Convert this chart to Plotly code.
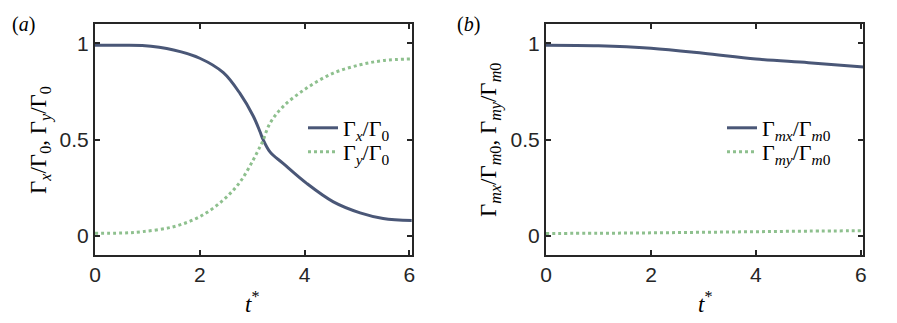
import plotly.graph_objects as go

# panel (a): Γx/Γ0 and Γy/Γ0 vs t*
t_a = [0, 0.5, 0.9, 1.5, 2.0, 2.45, 2.77, 3.02, 3.15, 3.2, 3.34, 3.59, 4.04, 4.55, 5.06, 5.5, 6.05]
gx_a = [0.99, 0.99, 0.988, 0.965, 0.922, 0.847, 0.738, 0.622, 0.54, 0.505, 0.436, 0.376, 0.272, 0.176, 0.119, 0.09, 0.079]
gy_a = [0.013, 0.014, 0.021, 0.047, 0.099, 0.186, 0.28, 0.394, 0.463, 0.49, 0.584, 0.671, 0.767, 0.845, 0.888, 0.91, 0.919]

# panel (b): Γmx/Γm0 and Γmy/Γm0 vs t*
t_b = [0, 1.0, 2.0, 3.0, 4.0, 5.0, 6.05]
gx_b = [0.99, 0.987, 0.974, 0.948, 0.918, 0.899, 0.877]
gy_b = [0.012, 0.013, 0.015, 0.018, 0.021, 0.024, 0.026]

x_ticks = [0, 2, 4, 6]
y_ticks = [0, 0.5, 1]
y_ticklabels = ['0', '0.5', '1']

DARK = '#4a5777'
GREEN = '#8ec08e'
W, H = 897, 323
OFF = 8  # page body margin
serif = 'Liberation Serif'


def px(x):
    return (x - OFF) / W


def py(y):
    return 1 - (y - OFF) / H


fig = go.Figure()
fig.add_trace(go.Scatter(x=t_a, y=gx_a, mode='lines', line=dict(color=DARK, width=3, shape='spline'),
                         name='Γ<sub><i>x</i></sub>/Γ<sub>0</sub>', xaxis='x', yaxis='y', legend='legend'))
fig.add_trace(go.Scatter(x=t_a, y=gy_a, mode='lines', line=dict(color=GREEN, width=3, dash='dot', shape='spline'),
                         name='Γ<sub><i>y</i></sub>/Γ<sub>0</sub>', xaxis='x', yaxis='y', legend='legend2'))
fig.add_trace(go.Scatter(x=t_b, y=gx_b, mode='lines', line=dict(color=DARK, width=3, shape='spline'),
                         name='Γ<sub><i>mx</i></sub>/Γ<sub><i>m</i>0</sub>', xaxis='x2', yaxis='y2', legend='legend3'))
fig.add_trace(go.Scatter(x=t_b, y=gy_b, mode='lines', line=dict(color=GREEN, width=3, dash='dot', shape='spline'),
                         name='Γ<sub><i>my</i></sub>/Γ<sub><i>m</i>0</sub>', xaxis='x2', yaxis='y2', legend='legend4'))

ax = dict(showline=True, linecolor='#262626', linewidth=2, mirror='ticks', ticks='inside', ticklen=5,
          tickwidth=1.5, tickcolor='#262626', showgrid=False, zeroline=False, automargin=False,
          tickfont=dict(family='Liberation Sans', size=21, color='#262626'))
y_dom = [py(255), py(24)]


def leg(x, y):
    return dict(x=px(x), y=py(y), xanchor='left', yanchor='middle', bgcolor='rgba(0,0,0,0)',
                font=dict(family=serif, size=22, color='black'))


fig.update_layout(
    width=W, height=H, margin=dict(l=0, r=0, t=0, b=0, autoexpand=False),
    plot_bgcolor='white', paper_bgcolor='white', showlegend=True,
    xaxis=dict(domain=[px(95), px(411.7)], range=[0, 6.045], tickvals=x_ticks, anchor='y', **ax),
    yaxis=dict(domain=y_dom, range=[-0.1, 1.1], tickvals=y_ticks, ticktext=y_ticklabels, anchor='x', **ax),
    xaxis2=dict(domain=[px(546), px(863.3)], range=[0, 6.045], tickvals=x_ticks, anchor='y2', **ax),
    yaxis2=dict(domain=y_dom, range=[-0.1, 1.1], tickvals=y_ticks, ticktext=y_ticklabels, anchor='x2', **ax),
    legend=leg(303, 128),
    legend2=leg(303, 152),
    legend3=leg(722, 128),
    legend4=leg(722, 152),
)

anns = [
    dict(text='(<i>a</i>)', x=px(10), y=py(25), xanchor='left', yanchor='middle', font=dict(size=20)),
    dict(text='(<i>b</i>)', x=px(455), y=py(25), xanchor='left', yanchor='middle', font=dict(size=20)),
    dict(text='<i>t</i><sup>*</sup>', x=px(252), y=py(302), xanchor='center', yanchor='middle', font=dict(size=23)),
    dict(text='<i>t</i><sup>*</sup>', x=px(704.6), y=py(302), xanchor='center', yanchor='middle', font=dict(size=23)),
    dict(text='Γ<sub><i>x</i></sub>/Γ<sub>0</sub>, Γ<sub><i>y</i></sub>/Γ<sub>0</sub>', x=px(40), y=py(140),
         xanchor='center', yanchor='middle', textangle=-90, font=dict(size=23)),
    dict(text='Γ<sub><i>mx</i></sub>/Γ<sub><i>m</i>0</sub>, Γ<sub><i>my</i></sub>/Γ<sub><i>m</i>0</sub>', x=px(490), y=py(140),
         xanchor='center', yanchor='middle', textangle=-90, font=dict(size=23)),
]
for a in anns:
    a['font'].update(family=serif, color='black')
    fig.add_annotation(xref='paper', yref='paper', showarrow=False, **a)

fig.write_html("out.html")
